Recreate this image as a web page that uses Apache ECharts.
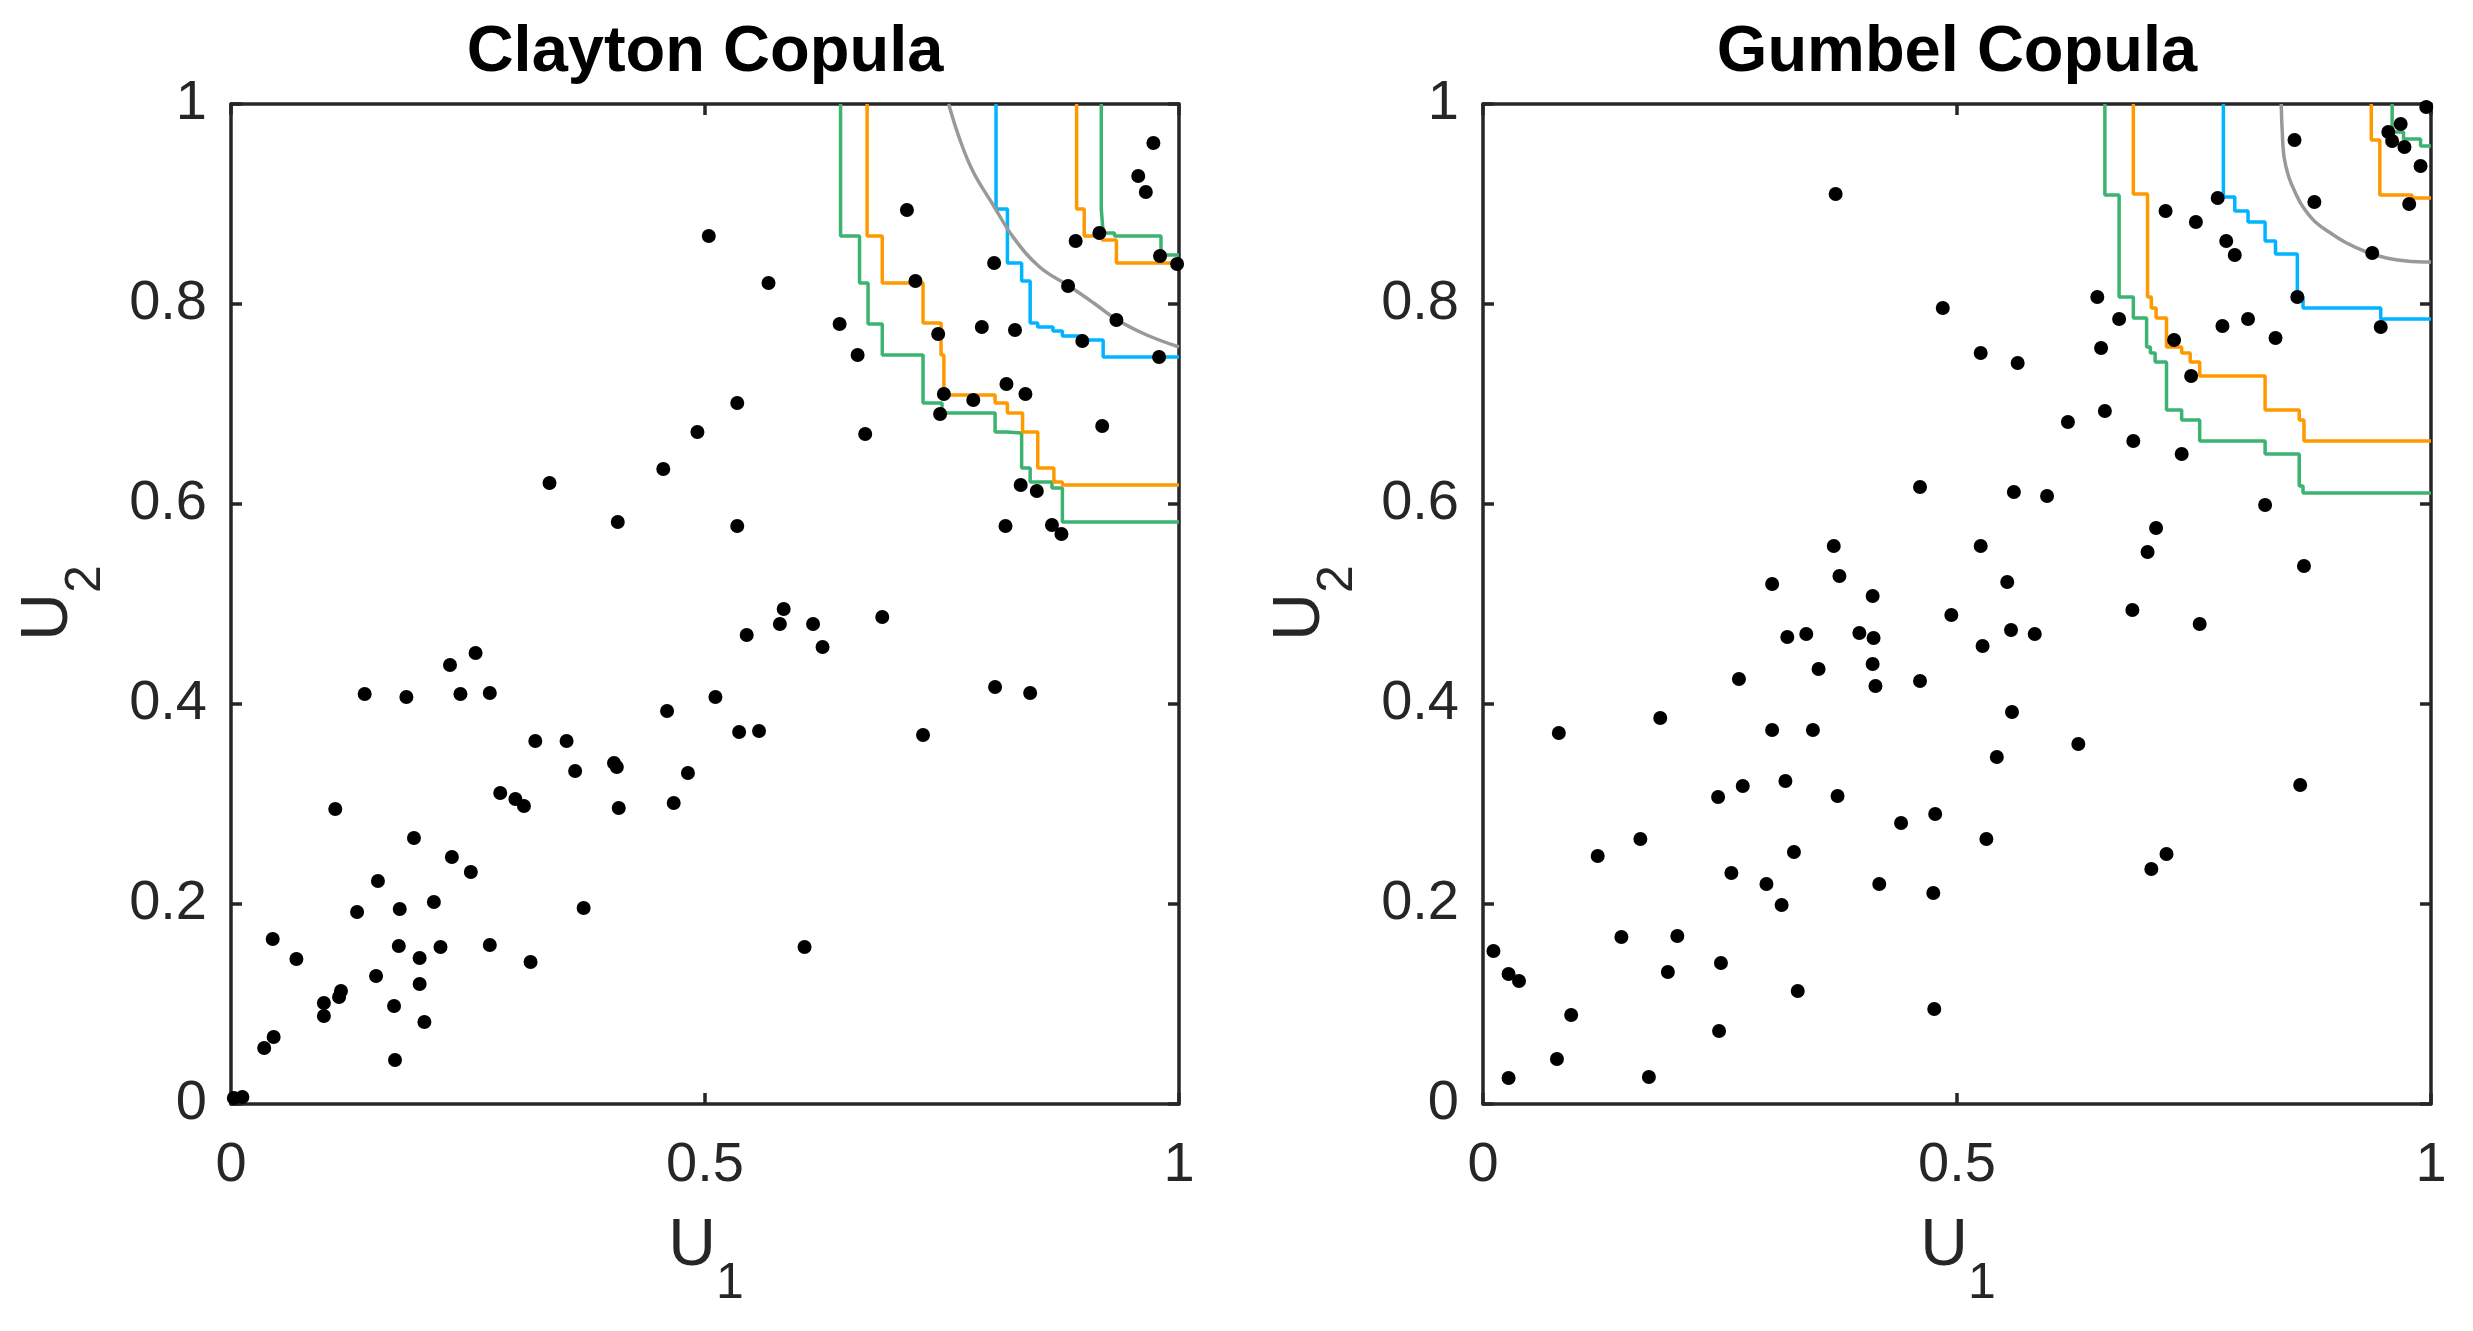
<!DOCTYPE html>
<html>
<head>
<meta charset="utf-8">
<script src="https://cdn.jsdelivr.net/npm/echarts@6/dist/echarts.min.js"></script>
<style>
  html, body { margin: 0; padding: 0; background: #fff; }
  #chart { width: 2473px; height: 1331px; }
</style>
</head>
<body>
<div id="chart"></div>
<script>
// sample points [U1, U2]
const claytonPoints = [
  [0.973,0.961],[0.957,0.928],[0.965,0.912],[0.713,0.894],[0.916,0.871],[0.891,0.863],[0.980,0.848],[0.998,0.840],
  [0.805,0.841],[0.722,0.823],[0.883,0.818],[0.642,0.780],[0.792,0.777],[0.827,0.774],[0.934,0.784],[0.746,0.770],
  [0.661,0.749],[0.898,0.763],[0.979,0.747],[0.818,0.720],[0.838,0.710],[0.752,0.710],[0.783,0.704],[0.748,0.690],
  [0.919,0.678],[0.669,0.670],[0.833,0.619],[0.850,0.613],[0.817,0.578],[0.866,0.579],[0.876,0.570],
  [0.504,0.868],[0.567,0.821],[0.534,0.701],[0.492,0.672],[0.456,0.635],[0.336,0.621],[0.408,0.582],[0.534,0.578],
  [0.583,0.495],[0.579,0.480],[0.614,0.480],[0.624,0.457],[0.544,0.469],[0.258,0.451],[0.231,0.439],[0.141,0.410],
  [0.185,0.407],[0.242,0.410],[0.273,0.411],[0.511,0.407],[0.460,0.393],[0.536,0.372],[0.557,0.373],[0.321,0.363],
  [0.354,0.363],[0.363,0.333],[0.404,0.341],[0.407,0.337],[0.482,0.331],[0.284,0.311],[0.300,0.305],[0.309,0.298],
  [0.409,0.296],[0.467,0.301],[0.110,0.295],[0.193,0.266],[0.233,0.247],[0.253,0.232],[0.155,0.223],[0.214,0.202],
  [0.372,0.196],[0.178,0.195],[0.133,0.192],[0.044,0.165],[0.069,0.145],[0.177,0.158],[0.221,0.157],[0.273,0.159],
  [0.199,0.146],[0.316,0.142],[0.605,0.157],[0.153,0.128],[0.199,0.120],[0.116,0.113],[0.114,0.107],[0.098,0.101],
  [0.098,0.088],[0.172,0.098],[0.204,0.082],[0.045,0.067],[0.035,0.056],[0.173,0.044],[0.003,0.006],[0.012,0.007],
  [0.687,0.487],[0.806,0.417],[0.843,0.411],[0.730,0.369]
];

const gumbelPoints = [
  [0.370,0.558],[0.376,0.528],[0.305,0.520],[0.411,0.508],[0.321,0.467],[0.341,0.470],[0.397,0.471],[0.412,0.466],
  [0.411,0.440],[0.414,0.418],[0.354,0.435],[0.270,0.425],[0.080,0.371],[0.187,0.386],[0.305,0.374],[0.348,0.374],
  [0.319,0.323],[0.274,0.318],[0.248,0.307],[0.374,0.308],[0.166,0.265],[0.121,0.248],[0.328,0.252],[0.262,0.231],
  [0.299,0.220],[0.315,0.199],[0.418,0.220],[0.146,0.167],[0.205,0.168],[0.011,0.153],[0.027,0.130],[0.038,0.123],
  [0.195,0.132],[0.251,0.141],[0.332,0.113],[0.093,0.089],[0.249,0.073],[0.078,0.045],[0.027,0.026],[0.175,0.027],
  [0.525,0.558],[0.701,0.552],[0.553,0.522],[0.494,0.489],[0.685,0.494],[0.557,0.474],[0.582,0.470],[0.527,0.458],
  [0.461,0.423],[0.558,0.392],[0.628,0.360],[0.542,0.347],[0.477,0.290],[0.441,0.281],[0.531,0.265],[0.705,0.235],
  [0.475,0.211],[0.476,0.095],
  [0.866,0.538],[0.756,0.480],[0.862,0.319],[0.721,0.250],
  [0.372,0.910],
  [0.995,0.997],[0.968,0.980],[0.955,0.972],[0.959,0.963],[0.972,0.957],[0.856,0.964],[0.989,0.938],[0.775,0.906],
  [0.877,0.902],[0.977,0.900],[0.720,0.893],[0.752,0.882],[0.784,0.863],[0.793,0.849],[0.938,0.851],[0.648,0.807],
  [0.859,0.807],[0.485,0.796],[0.671,0.785],[0.780,0.778],[0.807,0.785],[0.947,0.777],[0.836,0.766],[0.729,0.764],
  [0.652,0.756],[0.525,0.751],[0.564,0.741],[0.747,0.728],[0.656,0.693],[0.617,0.682],[0.686,0.663],[0.737,0.650],
  [0.461,0.617],[0.560,0.612],[0.595,0.608],[0.825,0.599],[0.710,0.576]
];

// empirical contours: each step = [U1 where the line drops, U2 level it drops to]
const claytonGreenOuter = [[0.643,0.868],[0.663,0.821],[0.672,0.780],[0.687,0.749],[0.730,0.701],[0.750,0.691],
  [0.806,0.672],[0.818,0.671],[0.834,0.636],[0.843,0.622],[0.866,0.616],[0.877,0.582]];
const claytonOrangeOuter = [[0.671,0.868],[0.687,0.821],[0.730,0.781],[0.749,0.749],[0.752,0.709],[0.806,0.701],
  [0.819,0.691],[0.835,0.672],[0.851,0.636],[0.868,0.622],[0.877,0.619]];
const claytonBlue = [[0.807,0.895],[0.819,0.841],[0.834,0.823],[0.843,0.781],[0.851,0.777],[0.867,0.773],
  [0.877,0.768],[0.900,0.764],[0.920,0.747]];
const claytonOrangeInner = [[0.892,0.895],[0.900,0.868],[0.919,0.864],[0.934,0.841]];
const claytonGreenInner = [[0.918,0.895],[0.920,0.871],[0.932,0.868],[0.981,0.849]];

const gumbelGreenOuter = [[0.656,0.909],[0.671,0.807],[0.686,0.786],[0.700,0.757],[0.704,0.751],[0.709,0.742],
  [0.721,0.694],[0.737,0.684],[0.756,0.663],[0.825,0.650],[0.861,0.618],[0.865,0.611]];
const gumbelOrangeOuter = [[0.686,0.910],[0.701,0.807],[0.705,0.796],[0.710,0.786],[0.721,0.757],[0.737,0.751],
  [0.746,0.742],[0.756,0.728],[0.825,0.694],[0.861,0.684],[0.866,0.663]];
const gumbelBlue = [[0.781,0.907],[0.793,0.893],[0.807,0.882],[0.825,0.863],[0.836,0.850],[0.859,0.807],
  [0.865,0.796],[0.947,0.785]];
const gumbelOrangeInner = [[0.937,0.964],[0.946,0.909],[0.980,0.906]];
const gumbelGreenInner = [[0.959,0.972],[0.971,0.965],[0.989,0.958]];

// theoretical contour curves
const claytonCurve = [[0.757,1.0],[0.769,0.964],[0.783,0.932],[0.804,0.899],[0.825,0.867],[0.853,0.837],
  [0.884,0.818],[0.910,0.801],[0.935,0.784],[0.966,0.769],[1.0,0.757]];
const gumbelCurve = [[0.842,1.0],[0.843,0.974],[0.845,0.947],[0.850,0.927],[0.857,0.911],[0.865,0.897],
  [0.878,0.882],[0.894,0.871],[0.911,0.861],[0.932,0.852],[0.953,0.846],[0.974,0.843],[1.0,0.842]];

const titles = ['Clayton Copula', 'Gumbel Copula'];
const xTicks = [0, 0.5, 1];
const yTicks = [0, 0.2, 0.4, 0.6, 0.8, 1];

const GREEN = '#3CB371', ORANGE = '#FF9900', BLUE = '#00B4FF', GRAY = '#999999';
const INK = '#262626';
const FONT = '"Liberation Sans", Arial, Helvetica, sans-serif';

// plot boxes
const boxes = [
  { left: 231, top: 104, width: 948, height: 1000 },
  { left: 1483, top: 104, width: 948, height: 1000 }
];

// turn step list into a staircase polyline from the top edge to the right edge
const stepPath = (steps) => {
  const out = [];
  let prev = 1;
  steps.forEach(([x, y]) => {
    out.push([x, prev]);
    out.push([x, y]);
    prev = y;
  });
  out.push([1, prev]);
  return out;
};

const axisLine = { show: true, onZero: false, lineStyle: { color: INK, width: 3.5 } };
const axisTick = { show: true, inside: true, length: 11, lineStyle: { color: INK, width: 3.5 } };

const xAxes = [];
const yAxes = [];
boxes.forEach((b, gi) => {
  ['bottom', 'top'].forEach((pos) => {
    xAxes.push({
      gridIndex: gi, type: 'value', position: pos, min: 0, max: 1, interval: xTicks[1] - xTicks[0],
      axisLine, axisTick,
      axisLabel: { show: pos === 'bottom', fontSize: 56, color: INK, fontFamily: FONT, margin: 34 },
      splitLine: { show: false }
    });
  });
  ['left', 'right'].forEach((pos) => {
    yAxes.push({
      gridIndex: gi, type: 'value', position: pos, min: 0, max: 1, interval: yTicks[1] - yTicks[0],
      axisLine, axisTick,
      axisLabel: { show: pos === 'left', fontSize: 56, color: INK, fontFamily: FONT, margin: 24 },
      splitLine: { show: false }
    });
  });
});

const lineSeries = (gi, data, color, smooth) => ({
  type: 'line', xAxisIndex: gi * 2, yAxisIndex: gi * 2, data,
  symbol: 'none', smooth: smooth || false, z: 3,
  lineStyle: { color, width: 3.5, opacity: 1 }
});

const panels = [
  { points: claytonPoints, curve: claytonCurve,
    steps: [[claytonGreenOuter, GREEN], [claytonOrangeOuter, ORANGE], [claytonBlue, BLUE],
            [claytonOrangeInner, ORANGE], [claytonGreenInner, GREEN]] },
  { points: gumbelPoints, curve: gumbelCurve,
    steps: [[gumbelGreenOuter, GREEN], [gumbelOrangeOuter, ORANGE], [gumbelBlue, BLUE],
            [gumbelOrangeInner, ORANGE], [gumbelGreenInner, GREEN]] }
];

const series = [];
panels.forEach((p, gi) => {
  p.steps.forEach(([s, c]) => series.push(lineSeries(gi, stepPath(s), c)));
  series.push(lineSeries(gi, p.curve, GRAY, 0.4));
  series.push({
    type: 'scatter', xAxisIndex: gi * 2, yAxisIndex: gi * 2, data: p.points,
    symbol: 'circle', symbolSize: 14, z: 5,
    itemStyle: { color: '#000', opacity: 1 }
  });
});

// titles and subscripted axis names
const graphic = [];
const txt = (x, y, text, size, weight, color, rotation) => ({
  type: 'text', x, y, rotation: rotation || 0, silent: true,
  style: {
    text, font: `${weight} ${size}px ${FONT}`, fill: color,
    align: 'center', verticalAlign: 'middle', textAlign: 'center', textVerticalAlign: 'middle'
  }
});
boxes.forEach((b, gi) => {
  const cx = b.left + b.width / 2;
  const cy = b.top + b.height / 2;
  graphic.push(txt(cx, 53, titles[gi], 65, 'bold', '#000'));
  graphic.push(txt(cx - 13, 1247, 'U', 66, 'normal', INK));
  graphic.push(txt(cx + 25, 1284, '1', 50, 'normal', INK));
  graphic.push(txt(b.left - 182, cy + 13, 'U', 66, 'normal', INK, Math.PI / 2));
  graphic.push(txt(b.left - 145, cy - 25, '2', 50, 'normal', INK, Math.PI / 2));
});

const chart = echarts.init(document.getElementById('chart'));
chart.setOption({
  animation: false,
  backgroundColor: '#fff',
  grid: boxes.map(b => ({ ...b, containLabel: false })),
  xAxis: xAxes,
  yAxis: yAxes,
  series,
  graphic
});
</script>
</body>
</html>
